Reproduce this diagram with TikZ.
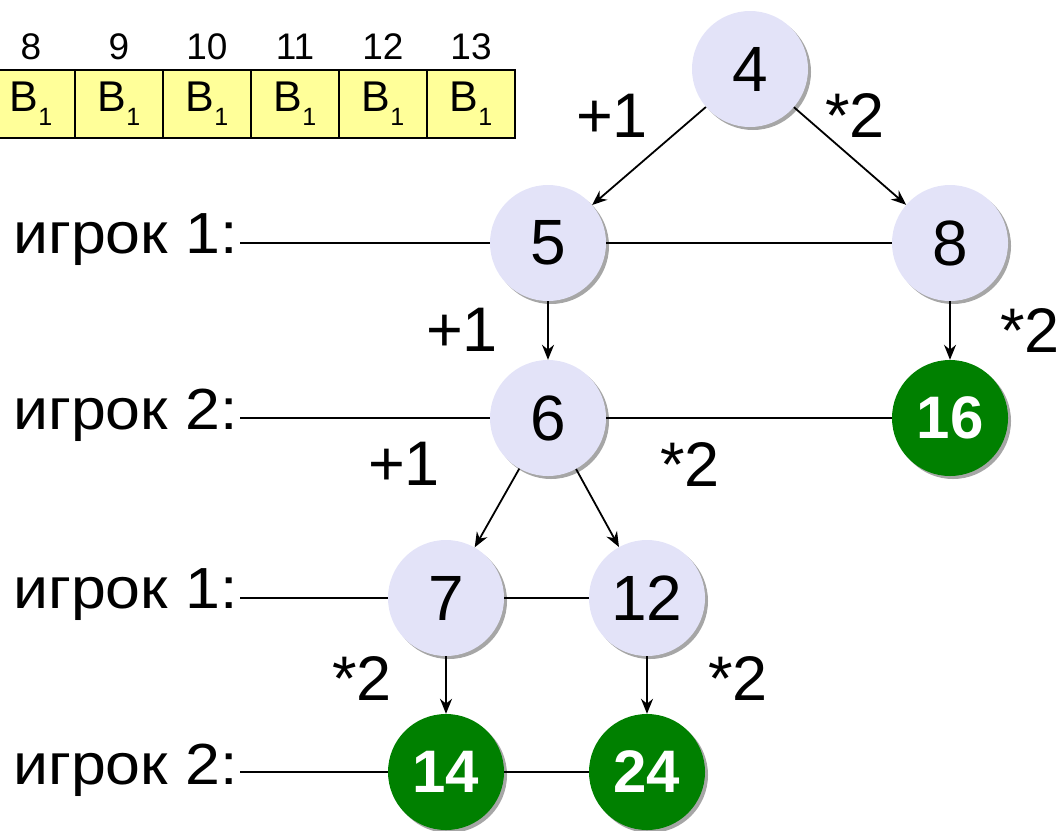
\documentclass[tikz,border=0pt]{standalone}
\usepackage{fontspec}
\setmainfont{Liberation Sans}
\newfontfamily\widefont[FakeStretch=1.08]{Liberation Sans}
\usetikzlibrary{arrows.meta,shadows}
\begin{document}
\begin{tikzpicture}[x=1pt,y=-1pt,
  state/.style={circle,fill=lav,minimum size=116pt,inner sep=0pt,
    font=\fontsize{64}{70}\selectfont,
    drop shadow={shadow xshift=3pt,shadow yshift=-3pt,opacity=0.35,fill=black}},
  win/.style={state,fill=wingreen,text=white,font=\fontsize{60}{70}\selectfont\bfseries},
  player/.style={anchor=east,inner sep=2pt,font=\widefont\fontsize{58}{66}\selectfont},
  op/.style={font=\fontsize{63}{70}\selectfont},
  cell/.style={draw=black,line width=1.8pt,fill=cellyellow,minimum width=88pt,minimum height=68pt,inner sep=0pt,font=\fontsize{43}{50}\selectfont},
  idx/.style={font=\fontsize{37}{40}\selectfont},
  arr/.style={-{Stealth[length=15pt,width=12pt]},line width=1.8pt},
  ln/.style={line width=1.6pt}]
\definecolor{lav}{HTML}{E3E3F8}
\definecolor{wingreen}{HTML}{008000}
\definecolor{cellyellow}{HTML}{FFFF99}
\useasboundingbox (0,0) rectangle (1062,830);
% table
\foreach \n/\x in {8/31,9/119,10/207,11/295,12/383,13/471}{
  \node[cell] (c\n) at (\x,104) {B\raisebox{-0.6ex}{\fontsize{25}{27}\selectfont 1}};
  \node[idx] (i\n) at (\x,47) {\n};
}
% tree nodes
\node[state] (n4) at (750,69) {4};
\node[state] (n5) at (548,243) {5};
\node[state] (n8) at (950,243) {8};
\node[state] (n6) at (548,418) {6};
\node[win] (n16) at (950,418) {16};
\node[state] (n7) at (446,598) {7};
\node[state] (n12) at (647,598) {12};
\node[win] (n14) at (446,772) {14};
\node[win] (n24) at (647,772) {24};
% players
\node[player] (p1) at (240,240) {игрок 1:};
\node[player] (p2) at (240,415) {игрок 2:};
\node[player] (p3) at (240,595) {игрок 1:};
\node[player] (p4) at (240,770) {игрок 2:};
% level lines
\draw[ln] (p1.east |- n5) -- (n5);
\draw[ln] (n5) -- (n8);
\draw[ln] (p2.east |- n6) -- (n6);
\draw[ln] (n6) -- (n16);
\draw[ln] (p3.east |- n7) -- (n7);
\draw[ln] (n7) -- (n12);
\draw[ln] (p4.east |- n14) -- (n14);
\draw[ln] (n14) -- (n24);
% arrows
\draw[arr] (n4) -- (n5);
\draw[arr] (n4) -- (n8);
\draw[arr] (n5) -- (n6);
\draw[arr] (n8) -- (n16);
\draw[arr] (n6) -- (n7);
\draw[arr] (n6) -- (n12);
\draw[arr] (n7) -- (n14);
\draw[arr] (n12) -- (n24);
% operation labels
\node[op] (o1) at (612,116) {+1};
\node[op] (o2) at (855,116) {*2};
\node[op] (o3) at (462,330) {+1};
\node[op] (o4) at (1030,330) {*2};
\node[op] (o5) at (404,464) {+1};
\node[op] (o6) at (690,464) {*2};
\node[op] (o7) at (362,678) {*2};
\node[op] (o8) at (738,678) {*2};
\end{tikzpicture}
\end{document}
